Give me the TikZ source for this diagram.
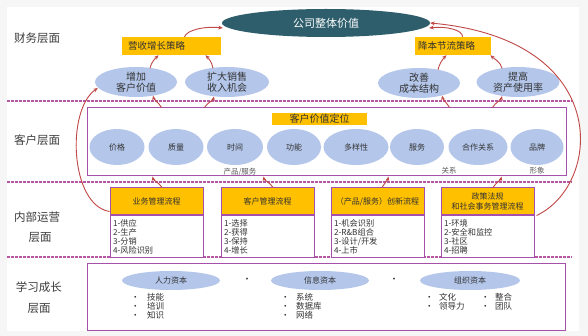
\documentclass[tikz,border=0pt]{standalone}
\usepackage{fontspec}
\setmainfont{Noto Sans CJK SC}
\usetikzlibrary{shapes.geometric,arrows.meta,calc}
\definecolor{lblue}{RGB}{180,199,235}
\definecolor{gold}{RGB}{255,192,0}
\definecolor{teal2}{RGB}{46,94,108}
\definecolor{purp}{RGB}{165,80,170}
\definecolor{dpurp}{RGB}{180,85,165}
\definecolor{arrred}{RGB}{192,72,70}
\definecolor{txt}{RGB}{50,50,50}
\definecolor{lbltxt}{RGB}{60,60,60}
\definecolor{subtxt}{RGB}{90,90,90}
\begin{document}
\begin{tikzpicture}[x=1pt,y=-1pt,
  every node/.style={text=txt, inner sep=0pt},
  lbl/.style={font=\fontsize{11.5}{14}\selectfont, text=lbltxt, align=center},
  fell/.style={ellipse, fill=lblue, minimum width=82pt, minimum height=30pt, font=\fontsize{10}{11.5}\selectfont, align=center},
  cell/.style={ellipse, fill=lblue, minimum height=36pt, font=\fontsize{8}{9}\selectfont},
  lell/.style={ellipse, fill=lblue, minimum width=98pt, minimum height=19pt, font=\fontsize{8}{9}\selectfont},
  strat/.style={fill=gold, minimum height=18pt, font=\fontsize{9.5}{11}\selectfont, align=left},
  hdr/.style={fill=gold, draw=purp, line width=1pt, minimum width=93pt, minimum height=27pt, font=\fontsize{8}{10}\selectfont, align=center},
  bodyb/.style={fill=white, draw=purp, line width=1pt, minimum width=93pt, minimum height=42pt, font=\fontsize{8.2}{9}\selectfont, align=left, text width=87pt, anchor=north},
  frame/.style={draw=purp, line width=1pt},
  subl/.style={font=\fontsize{7.5}{9}\selectfont, text=subtxt},
  blist/.style={anchor=north west, align=left, font=\fontsize{8.5}{9}\selectfont},
  dline/.style={draw=dpurp, line width=1.3pt, dash pattern=on 2.5pt off 1.5pt},
  arr/.style={draw=arrred, line width=0.9pt, -{Stealth[length=4.5pt,width=3.8pt]}}
]
\useasboundingbox (0,0) rectangle (588,336);
\fill[gray!7] (0,0) rectangle (588,336);
\fill[white] (7,7) rectangle (579,331);

% separators
\draw[dline] (7,101) -- (572,101);
\draw[dline] (7,182) -- (572,182);
\draw[dline] (7,257) -- (572,257);

% layer labels
\node[lbl] (L1) at (37,38) {财务层面};
\node[lbl] (L2) at (37,140) {客户层面};
\node[lbl] (L3) at (37,217) {内部运营};
\node[lbl] (L3b) at (40,237) {层面};
\node[lbl] (L4) at (39,287) {学习成长};
\node[lbl] (L4b) at (39,308) {层面};

% financial layer
\node[ellipse, fill=teal2, minimum width=208pt, minimum height=28pt, text=white, font=\fontsize{11}{13}\selectfont] (top) at (326,23) {公司整体价值};
\node[strat, text width=87pt, inner xsep=6pt] (rev) at (171.5,46) {营收增长策略};
\node[strat, text width=69pt, inner xsep=3.5pt] (cost) at (452.5,46) {降本节流策略};
\node[fell] (f1) at (136,82) {增加\\客户价值};
\node[fell, minimum width=84pt] (f2) at (227,82) {扩大销售\\收入机会};
\node[fell] (f3) at (419,83) {改善\\成本结构};
\node[fell, minimum width=83pt] (f4) at (518,82) {提高\\资产使用率};

% customer layer
\node[frame, minimum width=479pt, minimum height=68pt] (cust) at (326.5,142) {};
\node[fill=gold, minimum width=95pt, minimum height=12pt, font=\fontsize{10}{11}\selectfont] (cvp) at (319.5,119) {客户价值定位};
\node[cell, minimum width=55pt] (c1) at (117,147) {价格};
\node[cell, minimum width=55pt] (c2) at (176,147) {质量};
\node[cell, minimum width=56pt] (c3) at (235,147) {时间};
\node[cell, minimum width=54pt] (c4) at (294,147) {功能};
\node[cell, minimum width=65pt] (c5) at (356,147) {多样性};
\node[cell, minimum width=54pt] (c6) at (417,147) {服务};
\node[cell, minimum width=59pt] (c7) at (478,147) {合作关系};
\node[cell, minimum width=53pt] (c8) at (537,147) {品牌};
\node[subl] (s1) at (240,172) {产品/服务};
\node[subl] (s2) at (449,171) {关系};
\node[subl] (s3) at (537,171) {形象};

% internal layer
\node[hdr] (h1) at (156.5,201.5) {业务管理流程};
\node[bodyb] (b1) at (h1.south) {1-供应\\2-生产\\3-分销\\4-风险识别};
\node[hdr] (h2) at (267.5,201.5) {客户管理流程};
\node[bodyb] (b2) at (h2.south) {1-选择\\2-获得\\3-保持\\4-增长};
\node[hdr] (h3) at (377.5,201.5) {（产品/服务）创新流程};
\node[bodyb] (b3) at (h3.south) {1-机会识别\\2-R\&B组合\\3-设计/开发\\4-上市};
\node[hdr] (h4) at (487.5,201.5) {政策法规\\和社会事务管理流程};
\node[bodyb] (b4) at (h4.south) {1-环境\\2-安全和监控\\3-社区\\4-招聘};

% learning layer
\node[frame, minimum width=478pt, minimum height=67pt] (learn) at (326,297) {};
\node[lell] (e1) at (171,280.5) {人力资本};
\node[lell] (e2) at (320,280.5) {信息资本};
\node[lell, minimum width=100pt] (e3) at (470,280.5) {组织资本};
\node[font=\fontsize{9}{9}\selectfont] (p1) at (247,280) {•};
\node[font=\fontsize{9}{9}\selectfont] (p2) at (394,280) {•};
\node[blist] (l1) at (131,293.5) {\makebox[16pt][l]{•}技能\\\makebox[16pt][l]{•}培训\\\makebox[16pt][l]{•}知识};
\node[blist] (l2) at (281,293.5) {\makebox[15pt][l]{•}系统\\\makebox[15pt][l]{•}数据库\\\makebox[15pt][l]{•}网络};
\node[blist] (l3) at (425,293.5) {\makebox[14pt][l]{•}文化\\\makebox[14pt][l]{•}领导力};
\node[blist] (l4) at (481,293.5) {\makebox[14pt][l]{•}整合\\\makebox[14pt][l]{•}团队};

% arrows: financial
\draw[arr] ($(rev.north)+(13,0)$) .. controls (187,30) and (204,26) .. ($(top.west)+(1,5)$);
\draw[arr] ($(f1.north)+(14,1.5)$) .. controls +(1,-6) and +(-3,3) .. ($(rev.south)+(-13,0)$);
\draw[arr] ($(f2.north)+(-14,1.5)$) .. controls +(-1,-6) and +(3,3) .. ($(rev.south)+(34,0)$);
\draw[arr] ($(cost.north)+(10,0)$) .. controls (463,30) and (446,26) .. ($(top.east)+(-1,5)$);
\draw[arr] ($(f3.north)+(19,2)$) .. controls +(1,-6) and +(-3,3) .. ($(cost.south)+(-6,0)$);
\draw[arr] ($(f4.north)+(-16,1.5)$) .. controls +(-1,-6) and +(3,3) .. ($(cost.south)+(38,0)$);

% big arcs
\draw[arr] ($(h1.west)+(0,10)$) .. controls (70,205) and (66,110) .. ($(f1.west)+(3,6)$);
\draw[arr] ($(h4.south east)+(2,0)$) .. controls (602,185) and (614,40) .. (top.east);

% customer -> financial
\draw[arr] ($(cust.north west)+(75,0)$) .. controls +(-3,-5) and +(1,4) .. ($(f1.south)+(17,-1.5)$);
\draw[arr] ($(cust.north west)+(118,0)$) .. controls +(3,-5) and +(-1,4) .. ($(f2.south)+(-13,-0.7)$);
\draw[arr] ($(cust.north west)+(363,0)$) .. controls +(-3,-5) and +(1,4) .. ($(f3.south)+(23,-2.6)$);
\draw[arr] ($(cust.north west)+(406,0)$) .. controls +(3,-5) and +(-1,4) .. ($(f4.south)+(-16,-1.2)$);

% internal -> customer
\draw[arr] ($(h1.north)+(5.5,0)$) .. controls +(-3,-5) and +(1,4) .. ($(cust.south west)+(66,0)$);
\draw[arr] ($(h2.north)+(5.5,0)$) .. controls +(-3,-5) and +(1,4) .. ($(cust.south west)+(177,0)$);
\draw[arr] ($(h3.north)+(4.5,0)$) .. controls +(3,-5) and +(-1,4) .. ($(cust.south west)+(302,0)$);
\draw[arr] ($(h4.north)+(5.5,0)$) .. controls +(3,-5) and +(-1,4) .. ($(cust.south west)+(415,0)$);
\end{tikzpicture}
\end{document}
